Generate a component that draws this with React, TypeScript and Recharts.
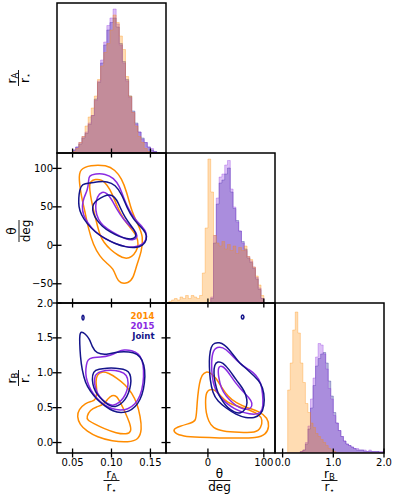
import React from 'react';
import { ComposedChart, Line, Area, XAxis, YAxis } from 'recharts';

const COLOR_2014 = '#ff8c00';
const COLOR_2015 = '#8a2be2';
const COLOR_JOINT = '#14148a';

// ---- axis domains & ticks ----
const rADomain = [0.03, 0.17];
const thetaDomain = [-75, 120];
const rBDomain = [-0.15, 2.0];
const rATicks = [0.05, 0.1, 0.15];
const thetaYTicks = [-50, 0, 50, 100];
const thetaXTicks = [0, 100];
const rBYTicks = [0, 0.5, 1.0, 1.5, 2.0];
const rBXTicks = [0, 1, 2];
const legendLabels = ['2014', '2015', 'Joint'];

// ---- histograms (relative heights) ----
const rABinStart = 0.046;
const rABinWidth = 0.004;
const rAHist2014 = [0.0, 0.01, 0.03, 0.07, 0.11, 0.18, 0.24, 0.3, 0.38, 0.49, 0.58, 0.67, 0.73, 0.82, 0.92, 0.87, 0.78, 0.69, 0.51, 0.38, 0.27, 0.18, 0.11, 0.07, 0.03, 0.01, 0.0, 0.0, 0.0];
const rAHist2015 = [0.0, 0.02, 0.04, 0.07, 0.11, 0.14, 0.2, 0.25, 0.35, 0.48, 0.62, 0.74, 0.85, 0.9, 0.96, 0.86, 0.72, 0.6, 0.48, 0.37, 0.27, 0.19, 0.14, 0.09, 0.07, 0.04, 0.03, 0.01, 0.0];
const rAHistJoint = [0.0, 0.02, 0.04, 0.06, 0.1, 0.13, 0.19, 0.25, 0.36, 0.47, 0.6, 0.72, 0.82, 0.87, 0.9, 0.84, 0.73, 0.61, 0.49, 0.38, 0.28, 0.2, 0.14, 0.1, 0.07, 0.04, 0.02, 0.01, 0.0];

const thetaBinStart = -70;
const thetaBinWidth = 5;
const thetaHist2014 = [0.01, 0.02, 0.03, 0.02, 0.04, 0.03, 0.05, 0.03, 0.05, 0.04, 0.03, 0.05, 0.2, 0.5, 0.96, 0.74, 0.45, 0.4, 0.38, 0.41, 0.36, 0.39, 0.35, 0.38, 0.33, 0.37, 0.35, 0.38, 0.31, 0.29, 0.24, 0.18, 0.12, 0.05];
const thetaHist2015 = [0, 0, 0, 0, 0, 0, 0, 0, 0, 0, 0, 0, 0, 0, 0, 0.04, 0.45, 0.7, 0.84, 0.86, 0.92, 0.95, 0.76, 0.64, 0.54, 0.48, 0.4, 0.35, 0.31, 0.28, 0.24, 0.17, 0.1, 0.03];
const thetaHistJoint = [0, 0, 0, 0, 0, 0, 0, 0, 0, 0, 0, 0, 0, 0, 0, 0.03, 0.4, 0.66, 0.8, 0.82, 0.86, 0.9, 0.74, 0.63, 0.55, 0.48, 0.41, 0.36, 0.3, 0.27, 0.23, 0.16, 0.09, 0.03];

const rBBinStart = 0.05;
const rBBinWidth = 0.05;
const rBHist2014 = [0.0, 0.42, 0.6, 0.82, 0.94, 0.8, 0.6, 0.47, 0.33, 0.27, 0.2, 0.17, 0.13, 0.11, 0.09, 0.07, 0.05, 0.03, 0.02, 0.01, 0, 0, 0, 0, 0, 0, 0, 0, 0, 0, 0, 0, 0, 0, 0, 0, 0, 0, 0];
const rBHist2015 = [0, 0, 0, 0, 0, 0, 0.01, 0.02, 0.07, 0.18, 0.36, 0.5, 0.64, 0.73, 0.72, 0.66, 0.56, 0.43, 0.36, 0.25, 0.2, 0.15, 0.11, 0.08, 0.06, 0.05, 0.04, 0.03, 0.03, 0.02, 0.02, 0.02, 0.01, 0.02, 0.01, 0.01, 0.01, 0.01, 0.01];
const rBHistJoint = [0, 0, 0, 0, 0, 0, 0.01, 0.02, 0.06, 0.16, 0.3, 0.45, 0.58, 0.63, 0.66, 0.67, 0.6, 0.48, 0.38, 0.27, 0.2, 0.15, 0.11, 0.08, 0.06, 0.05, 0.04, 0.03, 0.02, 0.02, 0.02, 0.01, 0.01, 0.01, 0.01, 0.01, 0.01, 0.005, 0.005];

// ---- contours: theta vs rA ----
const rATheta2014Outer = [[0.0595, 99.2], [0.0724, 104.4], [0.0938, 104.4], [0.1045, 97.9], [0.113, 87.1], [0.1195, 69.7], [0.1259, 43.7], [0.1344, 26.4], [0.1409, 11.2], [0.1387, -8.3], [0.1323, -25.6], [0.128, -42.9], [0.1216, -49.4], [0.1109, -49.4], [0.1066, -42.9], [0.1023, -29.9], [0.0938, -23.4], [0.0852, -14.8], [0.0766, 0.4], [0.0702, 22.1], [0.066, 43.7], [0.0617, 61.1], [0.0578, 87.1]];
const rATheta2014Inner = [[0.0728, 83.2], [0.0792, 86.2], [0.0878, 85.3], [0.0942, 78.8], [0.1006, 68.0], [0.107, 50.7], [0.1156, 33.3], [0.1263, 20.3], [0.1327, 11.7], [0.1349, 0.8], [0.1319, -7.8], [0.1263, -15.2], [0.1177, -17.8], [0.1092, -13.5], [0.0985, -5.7], [0.0899, 3.9], [0.0848, 13.8], [0.0805, 31.2], [0.0762, 48.5], [0.0728, 65.8], [0.0715, 76.7]];
const rATheta2015Outer = [[0.0707, 90.5], [0.0792, 93.1], [0.0921, 93.1], [0.1028, 87.5], [0.1105, 76.7], [0.1156, 61.5], [0.122, 46.3], [0.1306, 33.3], [0.1391, 24.7], [0.1456, 16.0], [0.1447, 6.5], [0.1391, 0.8], [0.1306, -2.6], [0.1177, -2.2], [0.1028, 3.0], [0.0899, 9.5], [0.0779, 18.2], [0.0694, 29.0], [0.0634, 39.8], [0.0621, 50.7], [0.0642, 61.5], [0.0694, 72.3], [0.0707, 83.2]];
const rATheta2015Inner = [[0.0814, 63.7], [0.0878, 70.2], [0.0942, 68.0], [0.1006, 59.3], [0.107, 46.3], [0.1156, 33.3], [0.1263, 22.5], [0.1327, 16.0], [0.1327, 9.5], [0.1276, 6.5], [0.1177, 8.2], [0.107, 13.8], [0.0942, 21.2], [0.0856, 29.0], [0.0805, 39.8], [0.0792, 50.7]];
const rAThetaJointOuter = [[0.0578, 61.5], [0.0591, 72.3], [0.0621, 80.1], [0.0728, 81.0], [0.0835, 82.7], [0.0942, 83.2], [0.1049, 78.8], [0.1135, 65.8], [0.1199, 48.5], [0.1284, 33.3], [0.137, 24.7], [0.1447, 16.0], [0.1456, 7.3], [0.1404, -0.5], [0.1306, -3.5], [0.1177, -2.2], [0.1049, 2.1], [0.0921, 8.2], [0.0792, 16.9], [0.0685, 28.1], [0.0608, 39.8], [0.0578, 50.7]];
const rAThetaJointInner = [[0.0779, 55.9], [0.0856, 61.5], [0.0942, 65.8], [0.1006, 65.8], [0.107, 59.3], [0.1113, 48.5], [0.1177, 35.5], [0.1242, 26.8], [0.1306, 18.2], [0.1319, 11.7], [0.1284, 8.2], [0.1199, 8.2], [0.1092, 11.7], [0.0985, 16.9], [0.0878, 24.7], [0.0805, 33.3], [0.0762, 42.0], [0.0754, 50.7]];

// ---- contours: rB vs rA ----
const rARB2014Outer = [[0.0814, 0.973], [0.0878, 1.021], [0.0963, 0.997], [0.107, 0.925], [0.1177, 0.829], [0.1263, 0.71], [0.1327, 0.567], [0.137, 0.376], [0.1391, 0.184], [0.1349, 0.041], [0.122, 0.003], [0.1006, 0.017], [0.0814, 0.079], [0.0685, 0.16], [0.0591, 0.256], [0.0557, 0.376], [0.0578, 0.471], [0.0664, 0.567], [0.0749, 0.59], [0.0805, 0.614], [0.0814, 0.758], [0.0796, 0.877]];
const rARB2014Inner = [[0.0681, 0.371], [0.0724, 0.466], [0.0809, 0.514], [0.0895, 0.538], [0.0959, 0.634], [0.1002, 0.681], [0.1066, 0.672], [0.1109, 0.586], [0.1173, 0.442], [0.1237, 0.275], [0.1259, 0.156], [0.1195, 0.117], [0.1066, 0.132], [0.0895, 0.203], [0.0767, 0.275], [0.0689, 0.323]];
const rARB2015Outer = [[0.0677, 1.116], [0.0694, 1.188], [0.0749, 1.221], [0.0856, 1.221], [0.0985, 1.245], [0.1092, 1.307], [0.1156, 1.331], [0.1263, 1.322], [0.1349, 1.274], [0.1395, 1.188], [0.1415, 1.044], [0.141, 0.853], [0.137, 0.662], [0.13, 0.543], [0.121, 0.476], [0.1113, 0.461], [0.1006, 0.481], [0.0899, 0.543], [0.0805, 0.638], [0.0728, 0.758], [0.0685, 0.877], [0.0664, 0.997]];
const rARB2015Inner = [[0.0779, 0.973], [0.0856, 1.021], [0.0985, 1.044], [0.1113, 1.021], [0.1199, 0.973], [0.122, 0.853], [0.1199, 0.734], [0.1156, 0.638], [0.1092, 0.567], [0.1028, 0.528], [0.0963, 0.543], [0.0878, 0.614], [0.0814, 0.71], [0.0779, 0.829]];
const rARBJointOuter = [[0.0608, 1.594], [0.0664, 1.56], [0.0719, 1.484], [0.0749, 1.379], [0.0805, 1.274], [0.0942, 1.259], [0.1049, 1.293], [0.1156, 1.307], [0.1284, 1.293], [0.137, 1.236], [0.1421, 1.116], [0.1434, 0.949], [0.1413, 0.758], [0.137, 0.614], [0.1306, 0.509], [0.122, 0.442], [0.1122, 0.423], [0.1019, 0.447], [0.0921, 0.519], [0.0814, 0.614], [0.0728, 0.734], [0.0664, 0.853], [0.0621, 1.044], [0.06, 1.236], [0.0591, 1.427], [0.0591, 1.546]];
const rARBJointInner = [[0.0762, 1.021], [0.0835, 1.054], [0.0942, 1.068], [0.1049, 1.068], [0.1156, 1.054], [0.122, 1.021], [0.125, 0.949], [0.125, 0.829], [0.122, 0.71], [0.1177, 0.614], [0.1113, 0.543], [0.1049, 0.509], [0.0985, 0.519], [0.0899, 0.59], [0.0814, 0.686], [0.0771, 0.782], [0.0749, 0.901]];
const rARBJointBlob = [[0.0634, 1.83], [0.0647, 1.81], [0.0648, 1.77], [0.0634, 1.75], [0.0621, 1.77], [0.062, 1.81]];

// ---- contours: rB vs theta ----
const thetaRB2014Outer = [[-3.4, 1.021], [5.5, 0.997], [14.4, 0.925], [23.4, 0.806], [35.3, 0.662], [50.2, 0.567], [71.1, 0.495], [92.0, 0.447], [106.9, 0.352], [109.9, 0.232], [103.9, 0.113], [86.0, 0.065], [56.2, 0.065], [20.4, 0.065], [-15.4, 0.074], [-45.2, 0.089], [-60.1, 0.137], [-61.9, 0.194], [-51.1, 0.232], [-30.3, 0.28], [-21.3, 0.304], [-20.1, 0.471], [-18.4, 0.662], [-15.4, 0.853], [-10.6, 0.973]];
const thetaRB2014Inner = [[-3.4, 0.734], [-4.6, 0.567], [-3.4, 0.423], [1.3, 0.304], [8.5, 0.208], [26.4, 0.16], [56.2, 0.146], [86.0, 0.137], [95.0, 0.208], [97.9, 0.328], [92.0, 0.399], [74.1, 0.471], [53.2, 0.519], [35.3, 0.567], [23.4, 0.662], [14.4, 0.748], [5.5, 0.767]];
const thetaRB2015Outer = [[8.5, 1.331], [20.4, 1.379], [32.3, 1.341], [44.3, 1.236], [59.2, 1.116], [74.1, 1.044], [86.0, 0.973], [95.0, 0.853], [97.9, 0.71], [99.1, 0.519], [95.0, 0.423], [83.0, 0.399], [65.1, 0.423], [47.2, 0.481], [32.3, 0.567], [20.4, 0.662], [11.5, 0.782], [7.3, 0.949], [6.1, 1.14]];
const thetaRB2015Inner = [[17.4, 1.092], [26.4, 1.102], [35.3, 1.021], [47.2, 0.877], [62.1, 0.734], [74.1, 0.638], [80.0, 0.567], [77.1, 0.481], [68.1, 0.471], [56.2, 0.495], [44.3, 0.567], [32.3, 0.662], [23.4, 0.782], [19.2, 0.925]];
const thetaRBJointOuter = [[5.5, 1.379], [11.5, 1.427], [20.4, 1.436], [29.4, 1.403], [38.3, 1.331], [47.2, 1.236], [56.2, 1.14], [71.1, 1.044], [83.0, 0.949], [95.0, 0.853], [100.9, 0.71], [100.9, 0.519], [95.0, 0.399], [83.0, 0.352], [68.1, 0.352], [50.2, 0.399], [32.3, 0.495], [17.4, 0.59], [8.5, 0.71], [3.7, 0.901], [2.5, 1.092], [2.5, 1.236]];
const thetaRBJointInner = [[11.5, 1.116], [17.4, 1.164], [26.4, 1.15], [38.3, 1.044], [50.2, 0.901], [62.1, 0.782], [68.1, 0.686], [71.1, 0.567], [66.9, 0.471], [59.2, 0.414], [47.2, 0.433], [35.3, 0.495], [26.4, 0.59], [17.4, 0.71], [12.7, 0.853], [10.3, 0.997]];
const thetaRBJointBlob = [[62.1, 1.835], [64.5, 1.815], [64.5, 1.785], [62.1, 1.765], [59.7, 1.785], [59.7, 1.815]];

// ---- layout ----
const COLS = [57, 166, 275];
const ROWS = [3, 153, 303];
const PW = 109;
const PH = 150;
const AXIS_W = 40;
const AXIS_H = 30;
const PAD = 10;
const FONT = 'DejaVu Sans, Verdana, sans-serif';

const toPts = (arr: number[][]) => arr.map(([x, y]) => ({ x, y }));

function histTable(start: number, width: number, o: number[], p: number[], j: number[]) {
  const rows: { x: number; o: number; p: number; j: number }[] = [{ x: start, o: 0, p: 0, j: 0 }];
  o.forEach((_, i) => rows.push({ x: start + i * width, o: o[i], p: p[i], j: j[i] }));
  rows.push({ x: start + o.length * width, o: 0, p: 0, j: 0 });
  return rows;
}

const fmtRA = (v: number) => v.toFixed(2);
const fmtTheta = (v: number) => (v < 0 ? '\u2212' + Math.abs(v) : String(v));
const fmtRB = (v: number) => v.toFixed(1);

function XTick(props: any) {
  const { x, y, payload, fmt } = props;
  return (
    <g>
      <line x1={x} x2={x} y1={y - 4.5} y2={y + 4.5} stroke="#000" strokeWidth={1.3} />
      {fmt ? (
        <text x={x} y={y + 12.5} textAnchor="middle" fontSize={10} fontFamily={FONT} fill="#000">
          {fmt(payload.value)}
        </text>
      ) : null}
    </g>
  );
}

function YTick(props: any) {
  const { x, y, payload, fmt } = props;
  return (
    <g>
      <line x1={x - 4.5} x2={x + 4.5} y1={y} y2={y} stroke="#000" strokeWidth={1.3} />
      {fmt ? (
        <text x={x - 4} y={y} dy="0.36em" textAnchor="end" fontSize={10} fontFamily={FONT} fill="#000">
          {fmt(payload.value)}
        </text>
      ) : null}
    </g>
  );
}

function Panel(props: any) {
  const { col, row, xDomain, yDomain, xTicks, yTicks, xFmt, yFmt, data, children } = props;
  return (
    <div style={{ position: 'absolute', left: COLS[col] - AXIS_W, top: ROWS[row] - PAD }}>
      <ComposedChart
        width={PW + AXIS_W + PAD}
        height={PH + PAD + AXIS_H}
        margin={{ top: PAD, right: PAD, bottom: 0, left: 0 }}
        data={data}
      >
        <XAxis
          type="number"
          dataKey="x"
          domain={xDomain}
          allowDataOverflow
          ticks={xTicks || []}
          interval={0}
          tickSize={0}
          tickMargin={0}
          axisLine={false}
          tickLine={false}
          height={AXIS_H}
          tick={xTicks ? (p: any) => <XTick {...p} fmt={xFmt} /> : false}
        />
        <YAxis
          type="number"
          domain={yDomain}
          allowDataOverflow
          ticks={yTicks || []}
          interval={0}
          tickSize={0}
          tickMargin={0}
          axisLine={false}
          tickLine={false}
          width={AXIS_W}
          tick={yTicks ? (p: any) => <YTick {...p} fmt={yFmt} /> : false}
        />
        {children}
      </ComposedChart>
    </div>
  );
}

function histAreas() {
  const keys = [
    ['j', COLOR_JOINT],
    ['p', COLOR_2015],
    ['o', COLOR_2014],
  ];
  return keys.map(([k, c]) => (
    <Area
      key={k}
      type="stepAfter"
      dataKey={k}
      stroke={c}
      strokeOpacity={0.3}
      strokeWidth={1}
      fill={c}
      fillOpacity={0.3}
      dot={false}
      activeDot={false}
      isAnimationActive={false}
    />
  ));
}

function contour(key: string, pts: number[][], color: string) {
  return (
    <Line
      key={key}
      data={toPts(pts)}
      dataKey="y"
      type="basisClosed"
      stroke={color}
      strokeWidth={1.5}
      dot={false}
      activeDot={false}
      isAnimationActive={false}
    />
  );
}

function FracLabel({ cx, cy, num, numSub, den, denSub, rotate, bar }: any) {
  return (
    <g transform={`translate(${cx},${cy})${rotate ? ' rotate(-90)' : ''}`} fontFamily={FONT} fill="#000">
      <text x={0} y={-3} textAnchor="middle" fontSize={12}>
        {num}
        {numSub ? (
          <tspan fontSize={8.5} dy={2.5}>
            {numSub}
          </tspan>
        ) : null}
      </text>
      <line x1={-bar / 2} x2={bar / 2} y1={0} y2={0} stroke="#000" strokeWidth={0.9} />
      <text x={0} y={10.5} textAnchor="middle" fontSize={12}>
        {den}
        {denSub ? (
          <tspan fontSize={8} dy={1.5}>
            {denSub}
          </tspan>
        ) : null}
      </text>
    </g>
  );
}

export default function App() {
  const rAHistData = histTable(rABinStart, rABinWidth, rAHist2014, rAHist2015, rAHistJoint);
  const thetaHistData = histTable(thetaBinStart, thetaBinWidth, thetaHist2014, thetaHist2015, thetaHistJoint);
  const rBHistData = histTable(rBBinStart, rBBinWidth, rBHist2014, rBHist2015, rBHistJoint);
  const legendColors = [COLOR_2014, COLOR_2015, COLOR_JOINT];

  return (
    <div style={{ position: 'absolute', left: 0, top: 0, width: 395, height: 498, background: '#fff', overflow: 'hidden' }}>
      {/* top-left histogram rA */}
      <Panel col={0} row={0} xDomain={rADomain} yDomain={[0, 1]} xTicks={rATicks} data={rAHistData}>
        {histAreas()}
      </Panel>
      {/* theta vs rA */}
      <Panel col={0} row={1} xDomain={rADomain} yDomain={thetaDomain} xTicks={rATicks} yTicks={thetaYTicks} yFmt={fmtTheta}>
        {[
          contour('a1', rATheta2014Outer, COLOR_2014),
          contour('a2', rATheta2014Inner, COLOR_2014),
          contour('a3', rATheta2015Outer, COLOR_2015),
          contour('a4', rATheta2015Inner, COLOR_2015),
          contour('a5', rAThetaJointOuter, COLOR_JOINT),
          contour('a6', rAThetaJointInner, COLOR_JOINT),
        ]}
      </Panel>
      {/* rB vs rA */}
      <Panel col={0} row={2} xDomain={rADomain} yDomain={rBDomain} xTicks={rATicks} yTicks={rBYTicks} xFmt={fmtRA} yFmt={fmtRB}>
        {[
          contour('b1', rARB2014Outer, COLOR_2014),
          contour('b2', rARB2014Inner, COLOR_2014),
          contour('b3', rARB2015Outer, COLOR_2015),
          contour('b4', rARB2015Inner, COLOR_2015),
          contour('b5', rARBJointOuter, COLOR_JOINT),
          contour('b6', rARBJointInner, COLOR_JOINT),
          contour('b7', rARBJointBlob, COLOR_JOINT),
        ]}
      </Panel>
      {/* theta histogram */}
      <Panel col={1} row={1} xDomain={thetaDomain} yDomain={[0, 1]} xTicks={thetaXTicks} data={thetaHistData}>
        {histAreas()}
      </Panel>
      {/* rB vs theta */}
      <Panel col={1} row={2} xDomain={thetaDomain} yDomain={rBDomain} xTicks={thetaXTicks} yTicks={rBYTicks} xFmt={fmtTheta}>
        {[
          contour('c1', thetaRB2014Outer, COLOR_2014),
          contour('c2', thetaRB2014Inner, COLOR_2014),
          contour('c3', thetaRB2015Outer, COLOR_2015),
          contour('c4', thetaRB2015Inner, COLOR_2015),
          contour('c5', thetaRBJointOuter, COLOR_JOINT),
          contour('c6', thetaRBJointInner, COLOR_JOINT),
          contour('c7', thetaRBJointBlob, COLOR_JOINT),
        ]}
      </Panel>
      {/* rB histogram */}
      <Panel col={2} row={2} xDomain={rBDomain} yDomain={[0, 1]} xTicks={rBXTicks} xFmt={fmtRB} data={rBHistData}>
        {histAreas()}
      </Panel>

      <svg width={395} height={498} style={{ position: 'absolute', left: 0, top: 0, pointerEvents: 'none' }}>
        {[
          [0, 0],
          [0, 1],
          [0, 2],
          [1, 1],
          [1, 2],
          [2, 2],
        ].map(([c, r]) => (
          <rect key={`${c}-${r}`} x={COLS[c]} y={ROWS[r]} width={PW} height={PH} fill="none" stroke="#000" strokeWidth={1.5} />
        ))}
        {/* legend */}
        {legendLabels.map((t, i) => (
          <text
            key={t}
            x={154.5}
            y={319 + i * 10}
            textAnchor="end"
            fontSize={8.6}
            fontWeight="bold"
            fontFamily={FONT}
            fill={legendColors[i]}
          >
            {t}
          </text>
        ))}
        {/* axis labels */}
        <FracLabel cx={18.5} cy={78} num="r" numSub="A" den="r" denSub={'\u22c6'} rotate bar={16} />
        <FracLabel cx={19} cy={231} num={'\u03b8'} den="deg" rotate bar={22} />
        <FracLabel cx={18.5} cy={378} num="r" numSub="B" den="r" denSub={'\u22c6'} rotate bar={16} />
        <FracLabel cx={111.5} cy={480.5} num="r" numSub="A" den="r" denSub={'\u22c6'} bar={16} />
        <FracLabel cx={219.5} cy={480.5} num={'\u03b8'} den="deg" bar={22} />
        <FracLabel cx={329.5} cy={480.5} num="r" numSub="B" den="r" denSub={'\u22c6'} bar={16} />
      </svg>
    </div>
  );
}
